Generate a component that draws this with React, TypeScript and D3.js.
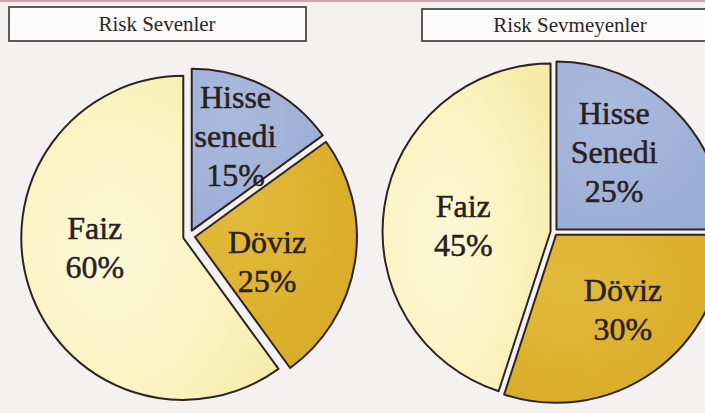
import React from "react";
import * as d3 from "d3";

// ---- data ----
const categories = ["Hisse senedi", "Döviz", "Faiz"];
const riskSevenlerValues = [15, 25, 60];
const riskSevmeyenlerValues = [25, 30, 45];
const riskSevenlerLabels = [["Hisse", "senedi"], ["Döviz"], ["Faiz"]];
const riskSevmeyenlerLabels = [["Hisse", "Senedi"], ["Döviz"], ["Faiz"]];
const chartTitles = ["Risk Sevenler", "Risk Sevmeyenler"];

// ---- layout / style ----
const W = 705;
const H = 413;
const layouts = [
  {
    cx: 189, cy: 236, r: 162, explode: 6,
    box: { x: 9, y: 7, w: 297, h: 34 },
    titleX: 157,
    labelPolar: [[25, 110], [108, 82], [263, 95]],
  },
  {
    cx: 554, cy: 232, r: 168, explode: 3.5,
    box: { x: 422, y: 9, w: 300, h: 32 },
    titleX: 570,
    labelPolar: [[37, 100], [138.5, 104], [274, 91]],
  },
];

const FONT = "'Liberation Serif', 'Times New Roman', serif";

function Pie({ idx, values, labels }: { idx: number; values: number[]; labels: string[][] }) {
  const L = layouts[idx];
  const pie = d3.pie<number>().sort(null).value((d) => d).startAngle(0).endAngle(2 * Math.PI);
  const arcs = pie(values);
  const arc = d3.arc<d3.PieArcDatum<number>>().innerRadius(0).outerRadius(L.r);
  const lineH = 39;
  return (
    <g>
      {arcs.map((a, i) => {
        const mid = (a.startAngle + a.endAngle) / 2;
        const dx = Math.sin(mid) * L.explode;
        const dy = -Math.cos(mid) * L.explode;
        return (
          <path
            key={categories[i]}
            d={arc(a) || ""}
            transform={`translate(${L.cx + dx},${L.cy + dy})`}
            fill={i === 2 ? `url(#faizGrad${idx})` : i === 1 ? `url(#dovizGrad${idx})` : `url(#hisseGrad${idx})`}
            stroke="#2e2424"
            strokeWidth={2}
            strokeLinejoin="round"
          />
        );
      })}
      {arcs.map((a, i) => {
        const [angDeg, dist] = L.labelPolar[i];
        const ang = (angDeg * Math.PI) / 180;
        const x = L.cx + Math.sin(ang) * dist;
        const y = L.cy - Math.cos(ang) * dist;
        const lines = [...labels[i], `${values[i]}%`];
        const first = y + 11 - ((lines.length - 1) * lineH) / 2;
        return (
          <text
            key={"t" + i}
            x={x}
            y={first}
            textAnchor="middle"
            fontFamily={FONT}
            fontSize={32}
            fill="#2a2020"
            stroke="#2a2020"
            strokeWidth={0.5}
          >
            {lines.map((ln, j) => (
              <tspan key={j} x={x} y={first + j * lineH}>
                {ln}
              </tspan>
            ))}
          </text>
        );
      })}
    </g>
  );
}

export default function App() {
  return (
    <svg
      width={W}
      height={H}
      viewBox={`0 0 ${W} ${H}`}
      style={{ position: "absolute", left: 0, top: 0, display: "block" }}
    >
      <defs>
        {[0, 1].map((k) => (
          <React.Fragment key={k}>
            <radialGradient id={`faizGrad${k}`} cx="0.35" cy="0.55" r="0.75">
              <stop offset="0%" stopColor="#fdf8d6" />
              <stop offset="60%" stopColor="#fbf3c0" />
              <stop offset="100%" stopColor="#f7eaa8" />
            </radialGradient>
            <radialGradient id={`dovizGrad${k}`} cx="0.3" cy="0.3" r="0.9">
              <stop offset="0%" stopColor="#e2ba3a" />
              <stop offset="100%" stopColor="#d7a924" />
            </radialGradient>
            <radialGradient id={`hisseGrad${k}`} cx="0.3" cy="0.3" r="0.9">
              <stop offset="0%" stopColor="#a9badd" />
              <stop offset="100%" stopColor="#98abd1" />
            </radialGradient>
          </React.Fragment>
        ))}
      </defs>
      <rect x={0} y={0} width={W} height={H} fill="#f6f1f1" />
      <line x1={0} y1={1} x2={W} y2={1} stroke="#cfa3b0" strokeWidth={2} />
      {chartTitles.map((t, i) => {
        const b = layouts[i].box;
        return (
          <g key={t}>
            <rect x={b.x} y={b.y} width={b.w} height={b.h} fill="#fcfbfb" stroke="#3a3333" strokeWidth={1.6} />
            <text
              x={layouts[i].titleX}
              y={b.y + b.h / 2 + 6.5}
              textAnchor="middle"
              fontFamily={FONT}
              fontSize={21}
              fill="#2e2626"
            >
              {t}
            </text>
          </g>
        );
      })}
      <Pie idx={0} values={riskSevenlerValues} labels={riskSevenlerLabels} />
      <Pie idx={1} values={riskSevmeyenlerValues} labels={riskSevmeyenlerLabels} />
    </svg>
  );
}
